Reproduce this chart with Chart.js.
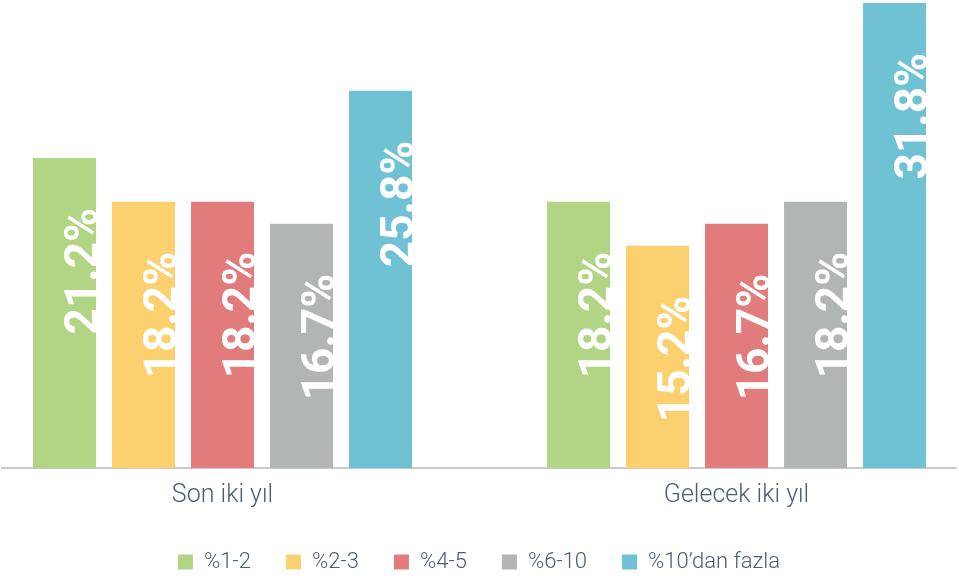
<!DOCTYPE html>
<html>
<head>
<meta charset="utf-8">
<script src="https://cdn.jsdelivr.net/npm/chart.js@4/dist/chart.umd.min.js"></script>
<style>
    html, body { margin: 0; padding: 0; background: #ffffff; }
    #wrap { width: 959px; height: 579px; }
</style>
</head>
<body>
<div id="wrap"><canvas id="rateChart"></canvas></div>
<script>
// ==================== DATA ====================

var categories = ["Son iki yıl", "Gelecek iki yıl"];
var seriesNames = ["%1-2", "%2-3", "%4-5", "%6-10", "%10’dan fazla"];
var seriesColors = ["#b1d584", "#fcd06e", "#e17b7c", "#b2b5b6", "#6fc2d3"];

var values12 = [21.2, 18.2];
var values23 = [18.2, 15.2];
var values45 = [18.2, 16.7];
var values610 = [16.7, 18.2];
var values10plus = [25.8, 31.8];

var seriesValues = [values12, values23, values45, values610, values10plus];

var textColor = "#4b5d6f";

// ==================== CHART ====================

// white rotated value labels inside each bar
var barLabels = {
    id: "barLabels",
    afterDatasetsDraw: function(chart) {
        var ctx = chart.ctx;
        ctx.save();
        ctx.fillStyle = "#ffffff";
        ctx.font = "bold 46px Roboto, sans-serif";
        ctx.textAlign = "right";
        ctx.textBaseline = "alphabetic";
        chart.data.datasets.forEach(function(ds, di) {
            var meta = chart.getDatasetMeta(di);
            meta.data.forEach(function(bar, i) {
                var v = ds.data[i].y;
                var right = bar.x + bar.width / 2 + 1;
                ctx.save();
                ctx.translate(right, bar.y + 50);
                ctx.rotate(-Math.PI / 2);
                ctx.fillText(v.toFixed(1) + "%", 0, 0);
                ctx.restore();
            });
        });
        ctx.restore();
    }
};

function buildDatasets() {
    var list = [];
    for (var s = 0; s < seriesNames.length; s++) {
        var pts = [];
        for (var i = 0; i < categories.length; i++) {
            pts.push({ x: i, y: seriesValues[s][i] });
        }
        list.push({
            label: seriesNames[s],
            data: pts,
            backgroundColor: seriesColors[s],
            borderWidth: 0,
            categoryPercentage: 0.7685,
            barPercentage: 0.797
        });
    }
    return list;
}

var ctx = document.getElementById("rateChart").getContext("2d");
new Chart(ctx, {
    type: "bar",
    data: { datasets: buildDatasets() },
    options: {
        responsive: true,
        maintainAspectRatio: false,
        animation: false,
        layout: { padding: { left: 2, right: 3, top: 0, bottom: -4 } },
        plugins: {
            legend: {
                position: "bottom",
                labels: {
                    color: textColor,
                    boxWidth: 15,
                    boxHeight: 15,
                    padding: 35,
                    font: { family: "Roboto", size: 22, weight: "300" }
                }
            },
            tooltip: { enabled: false }
        },
        scales: {
            x: {
                type: "linear",
                offset: false,
                min: -0.429,
                max: 1.427,
                grid: { display: false, drawTicks: false },
                border: { display: true, color: "#cacaca", width: 2 },
                afterBuildTicks: function(scale) {
                    scale.ticks = categories.map(function(c, i) { return { value: i }; });
                },
                afterFit: function(scale) {
                    scale.height -= 8;
                },
                ticks: {
                    color: textColor,
                    padding: 13,
                    autoSkip: false,
                    maxRotation: 0,
                    font: { family: "Roboto", size: 25, weight: "300" },
                    callback: function(value) { return categories[value]; }
                }
            },
            y: {
                display: false,
                min: 0,
                max: 32
            }
        }
    },
    plugins: [barLabels]
});
</script>
</body>
</html>
